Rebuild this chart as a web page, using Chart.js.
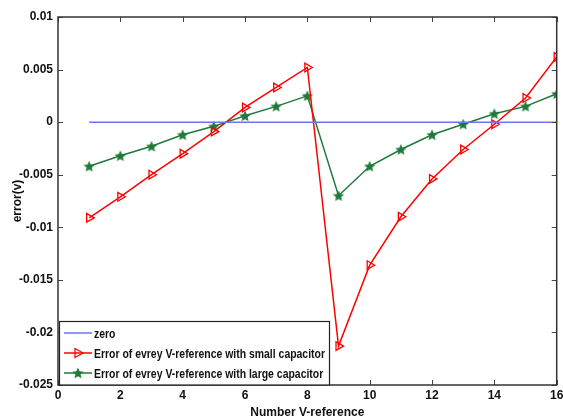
<!DOCTYPE html>
<html>
<head>
<meta charset="utf-8">
<script src="https://cdn.jsdelivr.net/npm/chart.js@4"></script>
<style>
  body { margin: 0; background: #fff; }
  canvas { display: block; }
</style>
</head>
<body>
<canvas id="graph" width="563" height="420"></canvas>
<script>
// values
const refNumber = [1, 2, 3, 4, 5, 6, 7, 8, 9, 10, 11, 12, 13, 14, 15, 16];
const zeroLine = [0, 0, 0, 0, 0, 0, 0, 0, 0, 0, 0, 0, 0, 0, 0, 0];
const smallCap = [-0.0091, -0.0071, -0.0050, -0.0030, -0.0009, 0.0014, 0.0033, 0.0052,
                  -0.0213, -0.0136, -0.0090, -0.0054, -0.0026, -0.0002, 0.0023, 0.0062];
const largeCap = [-0.0042, -0.0032, -0.0023, -0.0012, -0.0004, 0.0006, 0.0015, 0.0025,
                  -0.0070, -0.0042, -0.0026, -0.0012, -0.0002, 0.0008, 0.0015, 0.0027];
const yTickLabels = ['-0.025', '-0.02', '-0.015', '-0.01', '-0.005', '0', '0.005', '0.01'];
const xTickLabels = ['0', '2', '4', '6', '8', '10', '12', '14', '16'];

const seriesNames = [
    'zero',
    'Error of evrey V-reference with small capacitor',
    'Error of evrey V-reference with large capacitor'
];

const blue = '#7070ff';
const red = '#ff0000';
const green = '#1f7a3a';
const font = "'Liberation Sans', Arial, sans-serif";

function makeStar(color, r) {
    const size = Math.ceil(r * 2 + 2);
    const c = document.createElement('canvas');
    c.width = size;
    c.height = size;
    const ctx = c.getContext('2d');
    ctx.fillStyle = color;
    ctx.beginPath();
    for (let i = 0; i < 10; i++) {
        const a = -Math.PI / 2 + i * Math.PI / 5;
        const rr = i % 2 ? r * 0.45 : r;
        const px = size / 2 + rr * Math.cos(a);
        const py = size / 2 + rr * Math.sin(a) + 0.5;
        if (i === 0) ctx.moveTo(px, py); else ctx.lineTo(px, py);
    }
    ctx.closePath();
    ctx.fill();
    return c;
}
const starImg = makeStar(green, 6);

const toPoints = (arr) => arr.map((v, i) => ({ x: refNumber[i], y: v }));

const data = {
    datasets: [{
        label: seriesNames[0],
        data: toPoints(zeroLine),
        borderColor: blue,
        borderWidth: 1.5,
        pointRadius: 0
    }, {
        label: seriesNames[1],
        data: toPoints(smallCap),
        borderColor: red,
        borderWidth: 1.5,
        pointStyle: 'triangle',
        pointRotation: 90,
        pointRadius: 5,
        pointBorderWidth: 1.3,
        pointBorderColor: red,
        pointBackgroundColor: 'rgba(0,0,0,0)'
    }, {
        label: seriesNames[2],
        data: toPoints(largeCap),
        borderColor: green,
        borderWidth: 1.5,
        pointStyle: starImg
    }]
};

// box with inward ticks on all four sides, like the matlab axes
const frameTicks = {
    id: 'frameTicks',
    afterDatasetsDraw(chart) {
        const { ctx, chartArea: a, scales } = chart;
        ctx.save();
        ctx.strokeStyle = '#444';
        ctx.lineWidth = 1;
        const len = 5;
        scales.x.ticks.forEach(t => {
            const px = Math.round(scales.x.getPixelForValue(t.value)) + 0.5;
            ctx.beginPath();
            ctx.moveTo(px, a.bottom); ctx.lineTo(px, a.bottom - len);
            ctx.moveTo(px, a.top); ctx.lineTo(px, a.top + len);
            ctx.stroke();
        });
        scales.y.ticks.forEach(t => {
            const py = Math.round(scales.y.getPixelForValue(t.value)) + 0.5;
            ctx.beginPath();
            ctx.moveTo(a.left, py); ctx.lineTo(a.left + len, py);
            ctx.moveTo(a.right, py); ctx.lineTo(a.right - len, py);
            ctx.stroke();
        });
        ctx.lineWidth = 1.5;
        ctx.strokeStyle = '#333';
        ctx.strokeRect(a.left, a.top, a.right - a.left, a.bottom - a.top);
        ctx.restore();
    }
};

// legend boxed in the lower left corner of the axes
const cornerLegend = {
    id: 'cornerLegend',
    afterDraw(chart) {
        const { ctx, chartArea: a } = chart;
        const boxW = 270, rowH = 20, boxH = 64;
        const x0 = a.left + 1, y0 = a.bottom - boxH;
        ctx.save();
        ctx.fillStyle = '#fff';
        ctx.fillRect(x0, y0, boxW, boxH);
        ctx.strokeStyle = '#222';
        ctx.lineWidth = 1.2;
        ctx.strokeRect(x0 + 0.5, y0 + 0.5, boxW, boxH - 0.5);
        ctx.font = 'bold 13px ' + font;
        ctx.textBaseline = 'middle';
        // the original uses a narrow face: squeeze the text to the same width
        const squeeze = 231 / ctx.measureText(seriesNames[1]).width;
        chart.data.datasets.forEach((ds, i) => {
            const cy = y0 + 12 + i * rowH;
            ctx.strokeStyle = ds.borderColor;
            ctx.lineWidth = 1.5;
            ctx.beginPath();
            ctx.moveTo(x0 + 5, cy); ctx.lineTo(x0 + 33, cy);
            ctx.stroke();
            const mx = x0 + 19;
            if (i === 1) {
                ctx.lineWidth = 1.3;
                ctx.beginPath();
                ctx.moveTo(mx + 5, cy);
                ctx.lineTo(mx - 3, cy - 4.5);
                ctx.lineTo(mx - 3, cy + 4.5);
                ctx.closePath();
                ctx.stroke();
            } else if (i === 2) {
                ctx.drawImage(starImg, mx - starImg.width / 2, cy - starImg.height / 2);
            }
            ctx.save();
            ctx.translate(x0 + 35, cy + 1);
            ctx.scale(squeeze, 1);
            ctx.fillStyle = '#111';
            ctx.fillText(ds.label, 0, 0);
            ctx.restore();
        });
        ctx.restore();
    }
};

const config = {
    type: 'line',
    data: data,
    options: {
        responsive: false,
        animation: false,
        layout: { padding: { top: 17, right: 4, left: 0, bottom: 0 } },
        plugins: {
            legend: { display: false },
            tooltip: { enabled: false }
        },
        elements: { line: { tension: 0 } },
        scales: {
            x: {
                type: 'linear',
                min: 0,
                max: 16,
                afterFit: (scale) => { scale.height = 35; },
                ticks: {
                    stepSize: 2,
                    padding: -5,
                    color: '#111',
                    font: { family: font, size: 12, weight: 'bold' },
                    callback: (v) => xTickLabels[Math.round(v / 2)]
                },
                grid: { display: false },
                border: { display: false },
                title: {
                    display: true,
                    text: 'Number V-reference',
                    color: '#111',
                    font: { family: font, size: 12, weight: 'bold' },
                    padding: { top: 0, bottom: 0 }
                }
            },
            y: {
                min: -0.025,
                max: 0.01,
                afterFit: (scale) => { scale.width = 58; },
                ticks: {
                    stepSize: 0.005,
                    padding: -3,
                    color: '#111',
                    font: { family: font, size: 12, weight: 'bold' },
                    callback: (v) => yTickLabels[Math.round((v + 0.025) / 0.005)]
                },
                grid: { display: false },
                border: { display: false },
                title: {
                    display: true,
                    text: 'error(v)',
                    color: '#111',
                    font: { family: font, size: 12, weight: 'bold' },
                    padding: { top: 10, bottom: 0 }
                }
            }
        }
    },
    plugins: [frameTicks, cornerLegend]
};

const graph = document.querySelector('#graph');
new Chart(graph, config);
</script>
</body>
</html>
